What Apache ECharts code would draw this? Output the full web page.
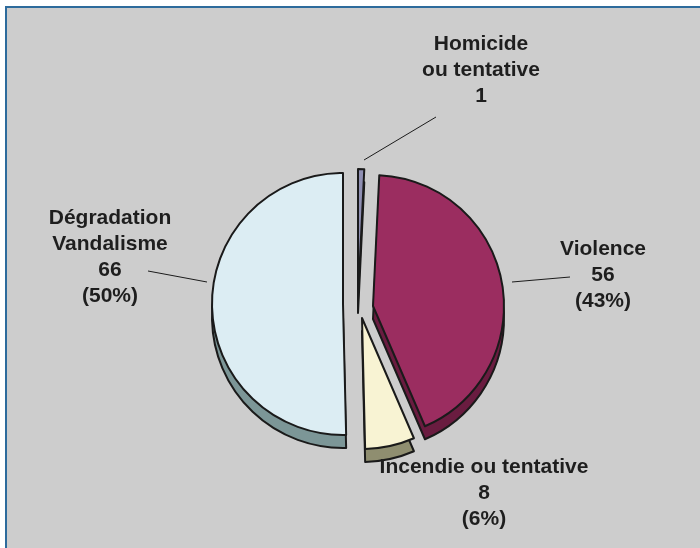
<!DOCTYPE html>
<html>
<head>
<meta charset="utf-8">
<script src="https://cdn.jsdelivr.net/npm/echarts@6/dist/echarts.min.js"></script>
<style>
html,body{margin:0;padding:0;background:#ffffff;}
#chart{width:700px;height:548px;}
</style>
</head>
<body>
<div id="chart"></div>
<script>
// ---- data ----
var categories = ['Homicide\nou tentative', 'Violence', 'Incendie ou tentative', 'Dégradation\nVandalisme'];
var values = [1, 56, 8, 66];
var showPercent = [false, true, true, true];

// ---- styles ----
var topColors = ['#8f8fb3', '#9b2d60', '#f8f3d3', '#dcedf3'];
var sideColors = ['#4d4d6e', '#6a1c40', '#8f8e70', '#7c9697'];
var centers = [[358, 300], [373, 306], [362, 318], [343, 304]];
var depth = 13;
var radius = 131;
var labelPos = [
  {x: 481, y: 70, line: [[364, 160], [436, 117]]},
  {x: 603, y: 275, line: [[512, 282], [570, 277]]},
  {x: 484, y: 493, line: null},
  {x: 110, y: 257, line: [[207, 282], [148, 271]]}
];

var total = values.reduce(function (a, b) { return a + b; }, 0);

function buildSeries(i, isSide) {
  var c = centers[i];
  return {
    type: 'pie',
    silent: true,
    animation: false,
    radius: radius,
    center: [c[0], c[1] + (isSide ? depth : 0)],
    startAngle: 90,
    clockwise: true,
    minAngle: 0,
    avoidLabelOverlap: false,
    z: isSide ? 1 : 2,
    emphasis: {disabled: true, scale: false},
    data: values.map(function (v, j) {
      var own = (j === i);
      return {
        value: v,
        name: categories[j],
        itemStyle: own ? {
          color: isSide ? sideColors[i] : topColors[i],
          borderColor: '#1a1a1a',
          borderWidth: 2
        } : {color: 'rgba(0,0,0,0)', borderWidth: 0},
        label: {show: own && !isSide},
        labelLine: {show: own && !isSide && labelPos[i].line !== null}
      };
    }),
    label: {
      position: 'outside',
      formatter: function (p) {
        var s = p.name + '\n' + p.value;
        if (showPercent[p.dataIndex]) {
          s += '\n(' + Math.round(p.value / total * 100) + '%)';
        }
        return s;
      },
      fontFamily: 'Liberation Sans, Arial, sans-serif',
      fontWeight: 'bold',
      fontSize: 21,
      lineHeight: 26,
      color: '#1e1e1e',
      align: 'center'
    },
    labelLine: {
      lineStyle: {color: '#1c1c1c', width: 1}
    },
    labelLayout: isSide ? null : function (params) {
      var lp = labelPos[i];
      var r = {x: lp.x, y: lp.y, align: 'center', verticalAlign: 'middle'};
      if (lp.line) {
        r.labelLinePoints = [lp.line[0], lp.line[1], lp.line[1]];
      }
      return r;
    }
  };
}

var series = [];
for (var i = 0; i < values.length; i++) series.push(buildSeries(i, true));
for (var k = 0; k < values.length; k++) series.push(buildSeries(k, false));

var chart = echarts.init(document.getElementById('chart'), null, {renderer: 'canvas'});
chart.setOption({
  backgroundColor: '#ffffff',
  animation: false,
  graphic: [{
    type: 'rect',
    z: -10,
    silent: true,
    shape: {x: 6, y: 7, width: 710, height: 560},
    style: {fill: '#cdcdcd', stroke: '#2d6b9c', lineWidth: 2}
  }],
  series: series
});
</script>
</body>
</html>
